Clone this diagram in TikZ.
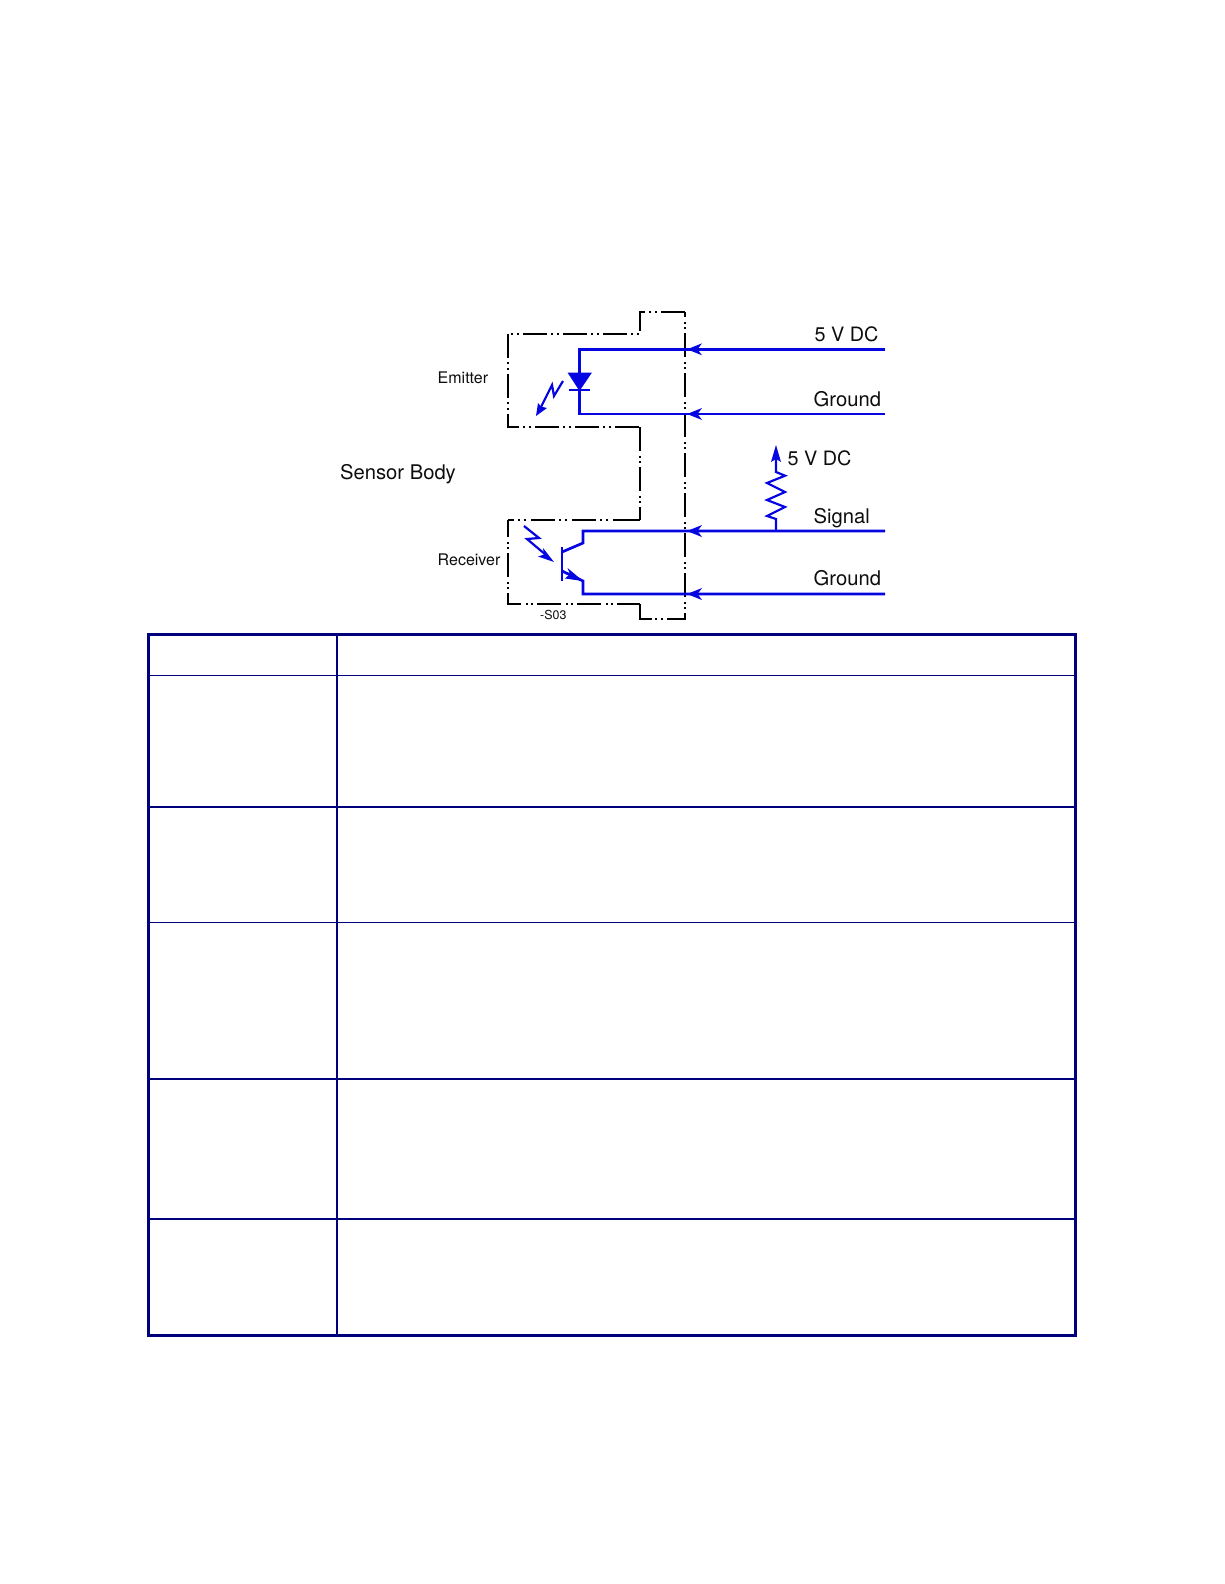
\documentclass[tikz,border=0pt]{standalone}
\usepackage{fontspec}
\setmainfont{TeX Gyre Heros}
\definecolor{wire}{RGB}{5,5,225}
\definecolor{rule}{RGB}{0,0,125}
\tikzset{
  x=1pt,y=-1pt,
  outline/.style={draw=black,line width=2.4pt},
  dashA/.style={dash pattern=on 24pt off 4.5pt on 2pt off 3.5pt on 2pt off 4pt},
  dashB/.style={dash pattern=on 24pt off 5pt on 2pt off 4pt on 2pt off 4pt},
  wireline/.style={draw=wire,line width=2.7pt},
  thinwire/.style={draw=wire,line width=2.2pt},
  tip/.style={fill=wire,draw=none},
  thick rule/.style={draw=rule,line width=3pt},
  mid rule/.style={draw=rule,line width=2pt},
  thin rule/.style={draw=rule,line width=1pt},
  big/.style={inner sep=0pt,anchor=base west,font=\fontsize{20.2}{22}\selectfont,text=black!95},
  bigv/.style={inner sep=0pt,anchor=base west,font=\fontsize{19.8}{22}\selectfont,text=black!95},
  small/.style={inner sep=0pt,anchor=base west,font=\fontsize{16}{19}\selectfont,text=black!95},
  tiny/.style={inner sep=0pt,anchor=base west,font=\fontsize{12.4}{14}\selectfont,text=black!95},
}
\begin{document}
\begin{tikzpicture}
\useasboundingbox (0,0) rectangle (1224,1584);
% sensor outline
\draw[outline,dashA,line join=miter] (685,312) -- (640,312) -- (640,334);
\draw[outline,line width=1.8pt,dash pattern=on 24pt off 4.5pt on 2pt off 3.5pt on 2pt off 4pt,dash phase=27pt] (640,334) -- (508,334);
\draw[outline,dashA] (508,333.5) -- (508,427) -- (640,427);
\draw[outline,dashA] (640,427) -- (640,520);
\draw[outline] (640,520) -- (637,520);
\draw[outline,dashB] (637,520) -- (508,520);
\draw[outline,dashA,dash phase=7pt] (508,520) -- (508,604) -- (640,604);
\draw[outline] (640,604) -- (640,619) -- (652,619);
\draw[outline,dashA,dash phase=19pt] (685,312) -- (685,619) -- (652,619);
% terminals
\coordinate (t1) at (885,349.3); \coordinate (p1) at (687,349.3); \coordinate (k1) at (579.5,349.3);
\coordinate (t2) at (885,414); \coordinate (p2) at (687,414); \coordinate (k2) at (579.5,414);
\coordinate (t3) at (885,531); \coordinate (p3) at (687,531); \coordinate (k3) at (583,531);
\coordinate (t4) at (885,594); \coordinate (p4) at (687,594); \coordinate (k4) at (583,594);
% wires
\draw[wireline,line join=miter] (t1) -- (k1) -- (k2) -- (t2);
\draw[wireline] (t3) -- (k3) -- (583,543) -- (562,552);
\draw[wireline] (t4) -- (k4) -- (583,581) -- (562,571);
\foreach \p in {p1,p2,p3,p4}{
  \fill[tip] (\p) -- ++(15,-6) -- ++(-4.5,6) -- ++(4.5,6) -- cycle;
}
% diode
\fill[tip] (567.5,372.5) -- (592,372.5) -- (579.5,391) -- cycle;
\draw[wireline] (568.5,390) -- (590,390);
% emitter lightning
\draw[thinwire] (563,381) -- (554,396) -- (552,385) -- (541,407);
\fill[tip] (536,416) -- (538,403) -- (541,406.5) -- (547,408) -- cycle;
% transistor
\draw[thinwire,line width=1.8pt] (562,547) -- (562,581);
\fill[tip] (583,581) -- (567.5,568) -- (570,574) -- (565,578.5) -- cycle;
\draw[thinwire] (524,526) -- (539,538) -- (527,539) -- (546,555);
\fill[tip] (554,562) -- (538,556.5) -- (544,554.5) -- (543,548) -- cycle;
% pull-up
\coordinate (r0) at (776,531);
\coordinate (r1) at (776,445);
\draw[thinwire] (r0) -- (776,519) -- (767,516) -- (785,507) -- (767,500) -- (785,492) -- (767,483) -- (785,475.7) -- (776,472) -- (776,455);
\fill[tip] (r1) -- (781,462) -- (776,459) -- (771,462) -- cycle;
% labels
\node[bigv] (a) at (814.5,341) {5 V DC};
\node[big] (b) at (813.5,406) {Ground};
\node[bigv] (c) at (787.5,465) {5 V DC};
\node[big] (d) at (813.5,523) {Signal};
\node[big] (e) at (813.5,585) {Ground};
\node[big] (f) at (340,479) {Sensor Body};
\node[small] (g) at (437.5,383) {Emitter};
\node[small] (h) at (437.5,565) {Receiver};
\node[tiny] (i) at (540,619) {-S03};
% table
\draw[thick rule] (148.5,634.5) rectangle (1075.5,1335);
\draw[mid rule] (337,634.5) -- (337,1335);
\draw[thin rule] (148.5,675) -- (1075.5,675);
\draw[mid rule] (148.5,807) -- (1075.5,807);
\draw[thin rule] (148.5,922) -- (1075.5,922);
\draw[mid rule] (148.5,1078.5) -- (1075.5,1078.5);
\draw[mid rule] (148.5,1219) -- (1075.5,1219);
\end{tikzpicture}
\end{document}
